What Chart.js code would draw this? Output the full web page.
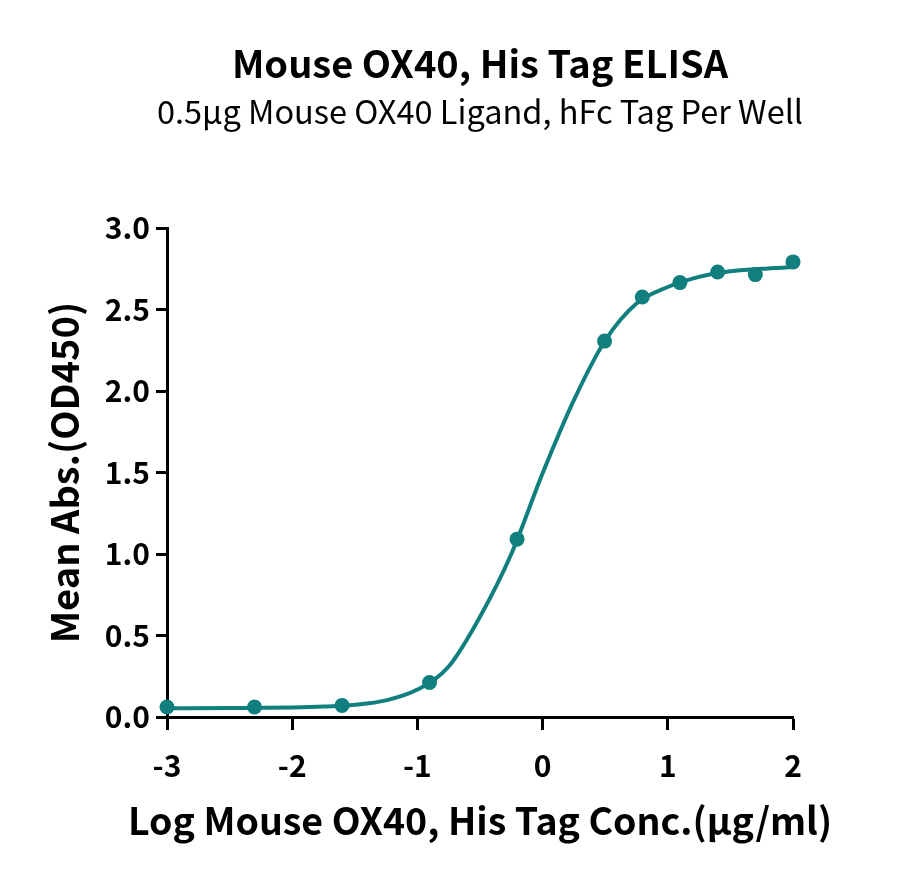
<!DOCTYPE html>
<html>
<head>
<meta charset="utf-8">
<script src="https://cdn.jsdelivr.net/npm/chart.js@4/dist/chart.umd.min.js"></script>
<style>
  html, body { margin: 0; padding: 0; background: #ffffff; }
  #wrap { width: 900px; height: 880px; }
</style>
</head>
<body>
<div id="wrap"><canvas id="c" width="900" height="880"></canvas></div>
<script>
// ---- data ----
const titleText = 'Mouse OX40, His Tag ELISA';
const subtitleText = '0.5\u00b5g Mouse OX40 Ligand, hFc Tag Per Well';
const xAxisTitle = 'Log Mouse OX40, His Tag Conc.(\u00b5g/ml)';
const yAxisTitle = 'Mean Abs.(OD450)';

const logConc = [-3, -2.301, -1.602, -0.903, -0.204, 0.495, 0.796, 1.097, 1.398, 1.699, 2.0];
const meanAbs = [0.061, 0.061, 0.071, 0.212, 1.091, 2.306, 2.577, 2.665, 2.730, 2.714, 2.792];

// fitted curve
const fitX = [-3, -2.5, -2, -1.75, -1.5, -1.25, -1, -0.75, -0.5, -0.25, 0, 0.25, 0.5, 0.75, 1, 1.25, 1.5, 1.75, 2];
const fitY = [0.053, 0.055, 0.059, 0.064, 0.075, 0.102, 0.168, 0.310, 0.615, 1.000, 1.495, 1.944, 2.310, 2.537, 2.638, 2.700, 2.735, 2.750, 2.760];

const xTicks = [-3, -2, -1, 0, 1, 2];
const yTicks = [0, 0.5, 1.0, 1.5, 2.0, 2.5, 3.0];

const teal = '#107f7e';
const FONT = "'Noto Sans CJK SC', 'Noto Sans', sans-serif";

const curvePts = fitX.map((x, i) => ({ x: x, y: fitY[i] }));
const dataPts = logConc.map((x, i) => ({ x: x, y: meanAbs[i] }));

// titles centred over the plot area (x-axis title drawn here so it is not squeezed)
const headerPlugin = {
  id: 'header',
  afterDraw(chart) {
    const { ctx, chartArea } = chart;
    const cx = (chartArea.left + chartArea.right) / 2;
    ctx.save();
    ctx.fillStyle = '#000';
    ctx.textAlign = 'center';
    ctx.textBaseline = 'middle';
    ctx.font = "bold 38px " + FONT;
    ctx.fillText(titleText, cx, 64);
    ctx.font = "normal 32.5px " + FONT;
    ctx.fillText(subtitleText, cx, 112);
    ctx.font = "bold 37.5px " + FONT;
    ctx.fillText(xAxisTitle, cx, 821);
    ctx.restore();
  }
};

new Chart(document.getElementById('c'), {
  type: 'scatter',
  data: {
    datasets: [
      {
        type: 'line',
        data: curvePts,
        borderColor: teal,
        borderWidth: 4,
        pointRadius: 0,
        cubicInterpolationMode: 'monotone',
        fill: false,
        clip: false
      },
      {
        type: 'scatter',
        data: dataPts,
        backgroundColor: teal,
        borderColor: teal,
        pointRadius: 7.5,
        borderWidth: 0,
        showLine: false,
        clip: false
      }
    ]
  },
  plugins: [headerPlugin],
  options: {
    responsive: false,
    animation: false,
    devicePixelRatio: 1,
    layout: { padding: { left: 26, right: 107, top: 228, bottom: 0 } },
    plugins: {
      legend: { display: false },
      tooltip: { enabled: false },
      title: { display: false },
      subtitle: { display: false }
    },
    scales: {
      x: {
        type: 'linear',
        min: -3,
        max: 2,
        afterBuildTicks: (s) => { s.ticks = xTicks.map(v => ({ value: v })); },
        afterFit: (s) => { s.height = 163; },
        ticks: {
          color: '#000',
          padding: 18,
          font: { family: FONT, size: 30, weight: 'bold' },
          callback: (v) => String(v)
        },
        grid: { drawOnChartArea: false, drawTicks: true, tickLength: 13, tickWidth: 3, tickColor: '#000' },
        border: { display: true, color: '#000', width: 3 },
        title: { display: false }
      },
      y: {
        type: 'linear',
        min: 0,
        max: 3,
        afterBuildTicks: (s) => { s.ticks = yTicks.map(v => ({ value: v })); },
        afterFit: (s) => { s.width = 141; },
        ticks: {
          color: '#000',
          padding: 6,
          font: { family: FONT, size: 30, weight: 'bold' },
          callback: (v) => Number(v).toFixed(1)
        },
        grid: { drawOnChartArea: false, drawTicks: true, tickLength: 11, tickWidth: 3, tickColor: '#000' },
        border: { display: true, color: '#000', width: 3 },
        title: {
          display: true,
          text: yAxisTitle,
          color: '#000',
          font: { family: FONT, size: 38, weight: 'bold' },
          padding: { top: 16, bottom: 0 }
        }
      }
    }
  }
});
</script>
</body>
</html>
